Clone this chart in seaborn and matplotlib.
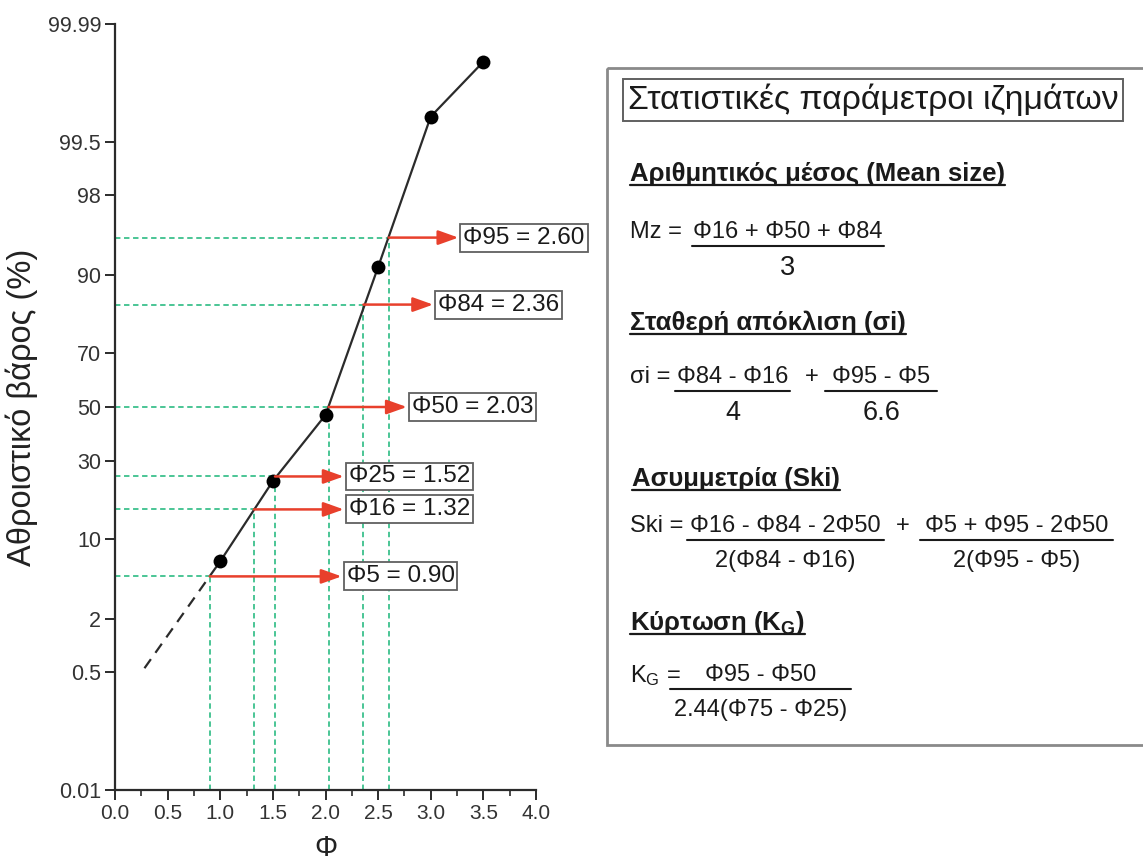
import math
from statistics import NormalDist
import numpy as np
import pandas as pd
import matplotlib
matplotlib.use("Agg")
import matplotlib.pyplot as plt
from matplotlib.patches import Rectangle
import seaborn as sns

# ---------------- data ----------------
phi_pts = [1.0, 1.5, 2.0, 2.5, 3.0, 3.5]
cum_pct = [6.7, 23.6, 46.9, 91.3, 99.76, 99.96]
extrap_phi = [0.28, 1.0]
extrap_pct = [0.56, 6.7]
percentiles = [95, 84, 50, 25, 16, 5]
phi_values = [2.60, 2.36, 2.03, 1.52, 1.32, 0.90]
label_x = [3.31, 3.07, 2.82, 2.22, 2.22, 2.20]
y_ticks = [0.01, 0.5, 2, 10, 30, 50, 70, 90, 98, 99.5, 99.99]
y_tick_labels = ["0.01", "0.5", "2", "10", "30", "50", "70", "90", "98", "99.5", "99.99"]
x_ticks = [0.0, 0.5, 1.0, 1.5, 2.0, 2.5, 3.0, 3.5, 4.0]

# ---------------- style ----------------
sns.set_style("ticks")
plt.rcParams["font.family"] = ["Liberation Sans", "DejaVu Sans"]
plt.rcParams["mathtext.fontset"] = "custom"
plt.rcParams["mathtext.rm"] = "Liberation Sans"
plt.rcParams["mathtext.bf"] = "Liberation Sans:bold"
plt.rcParams["mathtext.it"] = "Liberation Sans"

DARK = "#2b2b2b"
RED = "#e8402c"
GREEN = "#3cc08c"

W, H = 1143, 865
fig = plt.figure(figsize=(W / 100, H / 100), dpi=100)
fig.patch.set_facecolor("white")

ax = fig.add_axes([115 / W, (H - 790) / H, 421 / W, 766 / H])
ax.set_facecolor("none")

_nd = NormalDist()


def fwd(y):
    a = np.asarray(y, dtype=float)
    p = np.clip(a / 100.0, 1e-12, 1 - 1e-12)
    out = np.array([_nd.inv_cdf(v) if np.isfinite(v) else np.nan for v in p.ravel()])
    return out.reshape(a.shape)


def inv(z):
    a = np.asarray(z, dtype=float)
    out = np.array([50.0 * (1 + math.erf(v / math.sqrt(2))) if np.isfinite(v) else np.nan
                    for v in a.ravel()])
    return out.reshape(a.shape)


ax.set_yscale("function", functions=(fwd, inv))
ax.set_xlim(0, 4.0)
ax.set_ylim(0.01, 99.99)

# green guide lines
for p, v in zip(percentiles, phi_values):
    ax.plot([0, v], [p, p], color=GREEN, lw=1.3, ls=(0, (3, 2)), zorder=1)
    ax.plot([v, v], [0.01, p], color=GREEN, lw=1.3, ls=(0, (3, 2)), zorder=1)

# data curve
df = pd.DataFrame({"phi": phi_pts, "pct": cum_pct})
dfe = pd.DataFrame({"phi": extrap_phi, "pct": extrap_pct})
sns.lineplot(data=dfe, x="phi", y="pct", ax=ax, color=DARK, lw=1.6,
             linestyle=(0, (5, 3.5)), estimator=None, sort=False, zorder=3)
sns.lineplot(data=df, x="phi", y="pct", ax=ax, color=DARK, lw=1.6,
             estimator=None, sort=False, zorder=3)
sns.scatterplot(data=df, x="phi", y="pct", ax=ax, color="black", s=100,
                edgecolor="black", linewidth=0, zorder=4)

# red arrows with boxed labels
for p, v, lx in zip(percentiles, phi_values, label_x):
    ax.annotate(f"Φ{p} = {v:.2f}", xy=(v, p), xytext=(lx, p),
                ha="left", va="center", fontsize=17.5, color="#1a1a1a",
                annotation_clip=False,
                bbox=dict(boxstyle="square,pad=0.12", fc="white", ec="#606060", lw=1.3),
                arrowprops=dict(arrowstyle="<|-,head_length=0.7,head_width=0.25", color=RED,
                                lw=1.8, shrinkA=1, shrinkB=0),
                zorder=5)

# axes styling
ax.set_yticks(y_ticks)
ax.set_yticklabels(y_tick_labels)
ax.yaxis.set_minor_locator(matplotlib.ticker.NullLocator())
ax.set_xticks(x_ticks)
ax.set_xticklabels([f"{t:.1f}" for t in x_ticks])
ax.set_xticks(np.arange(0.25, 4.0, 0.5), minor=True)
sns.despine(ax=ax)
for s in ("left", "bottom"):
    ax.spines[s].set_color(DARK)
    ax.spines[s].set_linewidth(1.6)
ax.tick_params(axis="y", which="major", length=7, width=1.4, color=DARK,
               labelsize=15.5, labelcolor="#333333", pad=3)
ax.tick_params(axis="x", which="major", length=7, width=1.4, color=DARK,
               labelsize=15, labelcolor="#333333", pad=3)
ax.tick_params(axis="x", which="minor", length=4, width=1.2, color=DARK)
ax.set_xlabel("Φ", fontsize=21, color="#222222", labelpad=8)
ax.set_ylabel("Αθροιστικό βάρος (%)", fontsize=23.5, color="#222222", labelpad=7)

# ---------------- right panel (pixel coordinates) ----------------
ov = fig.add_axes([0, 0, 1, 1], zorder=10)
ov.set_xlim(0, W)
ov.set_ylim(H, 0)
ov.axis("off")
ov.patch.set_visible(False)

ov.add_patch(Rectangle((607, 68), 570, 677, fill=False, ec="#8a8a8a", lw=2.0, clip_on=False))

TXT = "#1a1a1a"
ov.text(628, 100, "Στατιστικές παράμετροι ιζημάτων", fontsize=24.3, color=TXT,
        ha="left", va="center",
        bbox=dict(boxstyle="square,pad=0.14", fc="white", ec="#606060", lw=1.4))

fig.canvas.draw()
renderer = fig.canvas.get_renderer()
inv_t = ov.transData.inverted()


def ext(t):
    bb = t.get_window_extent(renderer)
    (x0, y0), (x1, y1) = inv_t.transform([[bb.x0, bb.y0], [bb.x1, bb.y1]])
    return min(x0, x1), max(x0, x1)


def heading(x, base, s):
    t = ov.text(x, base, s, fontsize=18.5, fontweight="bold", color=TXT,
                ha="left", va="baseline")
    x0, x1 = ext(t)
    ov.plot([x0, x1], [base + 4, base + 4], color=TXT, lw=1.6)


def frac(xl, line_y, num, den, den_size=17, extra=4):
    tn = ov.text(xl, line_y - 8, num, fontsize=17, color=TXT, ha="left", va="baseline")
    n0, n1 = ext(tn)
    cx = (n0 + n1) / 2
    off = 29 if den_size > 17.5 else 27
    td = ov.text(cx, line_y + off, den, fontsize=den_size, color=TXT, ha="center", va="baseline")
    d0, d1 = ext(td)
    ov.plot([min(n0, d0) - extra, max(n1, d1) + extra], [line_y, line_y], color=TXT, lw=1.5)


heading(630, 181, "Αριθμητικός μέσος (Mean size)")
ov.text(630, 238, "Mz =", fontsize=17, color=TXT, ha="left", va="baseline")
frac(693, 246, "Φ16 + Φ50 + Φ84", "3", den_size=19.5, extra=1)

heading(630, 330, "Σταθερή απόκλιση (σi)")
ov.text(630, 383, "σi =", fontsize=17, color=TXT, ha="left", va="baseline")
frac(677, 391, "Φ84 - Φ16", "4", den_size=19.5, extra=2)
ov.text(812, 383, "+", fontsize=17, color=TXT, ha="center", va="baseline")
frac(832, 391, "Φ95 - Φ5", "6.6", den_size=19.5, extra=7)

heading(632, 486, "Ασυμμετρία (Ski)")
ov.text(630, 532, "Ski =", fontsize=17, color=TXT, ha="left", va="baseline")
frac(690, 540, "Φ16 - Φ84 - 2Φ50", "2(Φ84 - Φ16)", extra=3)
ov.text(903, 532, "+", fontsize=17, color=TXT, ha="center", va="baseline")
frac(925, 540, "Φ5 + Φ95 - 2Φ50", "2(Φ95 - Φ5)", extra=5)

heading(630, 630, "Κύρτωση (K$_\\mathbf{G}$)")
ov.text(630, 682, "K$_\\mathrm{G}$ =", fontsize=17, color=TXT, ha="left", va="baseline")
frac(705, 689, "Φ95 - Φ50", "2.44(Φ75 - Φ25)", extra=4)

fig.savefig("out.png", dpi=100, facecolor="white")
